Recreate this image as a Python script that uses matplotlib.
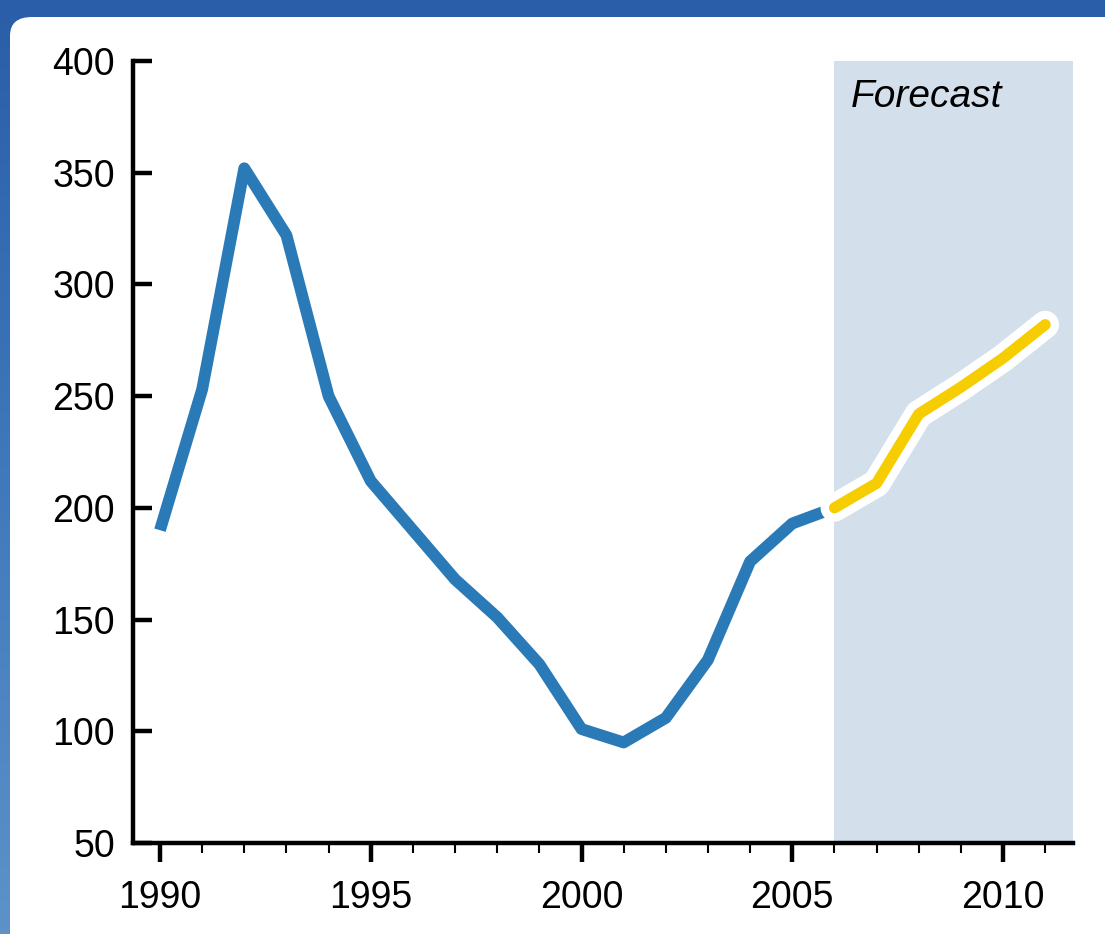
import numpy as np
import matplotlib
matplotlib.use("Agg")
import matplotlib.pyplot as plt
import matplotlib.patheffects as pe
from matplotlib.patches import FancyBboxPatch
from matplotlib.ticker import MultipleLocator

plt.rcParams['font.family'] = ['Liberation Sans', 'DejaVu Sans']

# historical series
years = np.arange(1990, 2007)
values = [190, 253, 352, 322, 250, 212, 190, 168, 151, 130, 101, 95, 106, 132, 176, 193, 200]

# forecast series
fc_years = np.arange(2006, 2012)
fc_values = [200, 211, 242, 254, 267, 282]

y_ticks = [50, 100, 150, 200, 250, 300, 350, 400]
x_ticks = [1990, 1995, 2000, 2005, 2010]

W, H = 1105, 934
fig = plt.figure(figsize=(W / 100, H / 100), dpi=100)

# blue frame behind the white panel
bg = fig.add_axes([0, 0, 1, 1])
grad = np.linspace(0, 1, 256).reshape(-1, 1)
cmap = matplotlib.colors.LinearSegmentedColormap.from_list("frame", ["#2a5ea8", "#3f78bb", "#5d92c9"])
bg.imshow(grad, aspect="auto", cmap=cmap, extent=[0, 1, 0, 1], origin="upper")
panel = FancyBboxPatch((10 / W, -0.1), 1.2, (H - 17) / H + 0.1,
                       boxstyle="round,pad=0,rounding_size=0.02",
                       facecolor="white", edgecolor="none", transform=bg.transAxes)
bg.add_patch(panel)
bg.set_xlim(0, 1)
bg.set_ylim(0, 1)
bg.axis("off")

ax = fig.add_axes([133 / W, 1 - 843 / H, (1073 - 133) / W, (843 - 61) / H])
ax.patch.set_alpha(0)
ax.set_xlim(1989.36, 2011.66)
ax.set_ylim(50, 400)

ax.axvspan(2006, 2011.66, color="#d3e0ec", zorder=0, lw=0)
ax.text(2006.4, 392, "Forecast", style="italic", fontsize=28, va="top", ha="left")

ax.plot(years, values, color="#2a7ab8", lw=8.5, solid_joinstyle="round",
        solid_capstyle="butt", zorder=3)
ax.plot(fc_years, fc_values, color="#f6cd00", lw=8, solid_joinstyle="round",
        solid_capstyle="round", zorder=4,
        path_effects=[pe.Stroke(linewidth=20, foreground="white"), pe.Normal()])

for s in ["top", "right"]:
    ax.spines[s].set_visible(False)
for s in ["left", "bottom"]:
    ax.spines[s].set_linewidth(3.2)
    ax.spines[s].set_zorder(5)

ax.set_yticks(y_ticks)
ax.set_xticks(x_ticks)
ax.xaxis.set_minor_locator(MultipleLocator(1))
ax.tick_params(axis="y", direction="in", length=14, width=3.2, labelsize=27, pad=13)
ax.tick_params(axis="x", which="major", direction="out", length=14, width=3.2,
               labelsize=27, pad=13)
ax.tick_params(axis="x", which="minor", direction="out", length=7, width=1.5)

fig.savefig("out.png", dpi=100)
